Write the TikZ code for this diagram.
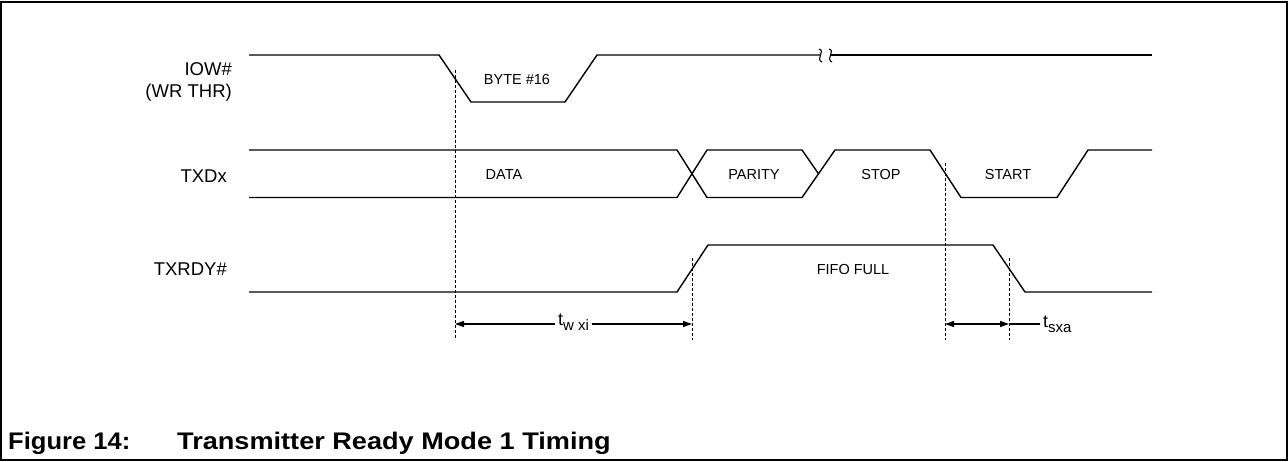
\documentclass[tikz,border=0pt]{standalone}
\usepackage{fontspec}
\setmainfont{Liberation Sans}
\usetikzlibrary{arrows.meta}
\begin{document}
\begin{tikzpicture}[x=1pt,y=-1pt,
  sig/.style={line width=1.4pt, line join=miter},
  guide/.style={line width=1pt, dash pattern=on 3pt off 2pt},
  tipped/.style={line width=1.1pt, {Triangle[length=9pt,width=6pt]}-{Triangle[length=9pt,width=6pt]}},
  plain/.style={line width=1.1pt},
  siglabel/.style={anchor=base east, inner sep=0pt, font=\fontsize{18.5}{20}\selectfont},
  inlabel/.style={anchor=base, inner sep=0pt, font=\fontsize{14.5}{16}\selectfont},
  caption/.style={anchor=base west, inner sep=0pt, font=\fontsize{24}{26}\selectfont\bfseries},
]
\useasboundingbox (0,0) rectangle (1288,461);
\draw[line width=2pt] (1,1.5) rectangle (1286.5,459.8);

% signal labels
\node[siglabel] (lIOW) at (232,75.5) {IOW\#};
\node[siglabel] (lWR) at (232,97) {(WR THR)};
\node[siglabel] (lTXD) at (227,182) {TXDx};
\node[siglabel] (lRDY) at (227,275) {TXRDY\#};

% IOW#
\draw[sig] (249,55) -- (439,55) -- (471,102) -- (565,102) -- (597,55) -- (820.5,55);
\draw[sig] (830.5,55) -- (1152,55);
\draw[line width=1.1pt] (819,49) .. controls (826,51) and (815,59) .. (822,62);
\draw[line width=1.1pt] (829,49) .. controls (836,51) and (825,59) .. (832,62);

% TXDx
\draw[sig] (249,150) -- (677,150) -- (707,197.5) -- (802,197.5) -- (835,150) -- (930,150)
  -- (961,197.5) -- (1057,197.5) -- (1088,150) -- (1152,150);
\draw[sig] (249,197.5) -- (677,197.5) -- (707,150) -- (802,150) -- (818.5,173.75);

% TXRDY#
\draw[sig] (249,292) -- (677,292) -- (708,245) -- (993,245) -- (1025,292) -- (1152,292);

% inner labels
\node[inlabel] (tByte) at (517,84.3) {BYTE \#16};
\node[inlabel] (tData) at (504,179.5) {DATA};
\node[inlabel] (tPar) at (754,179.5) {PARITY};
\node[inlabel] (tStop) at (881,179.5) {STOP};
\node[inlabel] (tStart) at (1008,179.5) {START};
\node[inlabel] (tFifo) at (853,274) {FIFO FULL};

% guide lines
\coordinate (g1t) at (455,70);   \coordinate (g1b) at (455,340);
\coordinate (g2t) at (692,258);  \coordinate (g2b) at (692,340);
\coordinate (g3t) at (945,163);  \coordinate (g3b) at (945,340);
\coordinate (g4t) at (1009,258); \coordinate (g4b) at (1009,340);
\draw[guide] (g1t) -- (g1b);
\draw[guide] (g2t) -- (g2b);
\draw[guide] (g3t) -- (g3b);
\draw[guide] (g4t) -- (g4b);

% dimensions
\coordinate (w1) at (455,324);
\coordinate (w2) at (692,324);
\draw[tipped] (w1) -- node[fill=white, inner sep=3pt, font=\fontsize{18}{20}\selectfont, yshift=1.5pt] (twxi)
  {t\raisebox{-5pt}{\fontsize{15}{16}\selectfont w xi}} (w2);
\coordinate (s1) at (945,324);
\coordinate (s2) at (1009,324);
\coordinate (s3) at (1040,324);
\draw[tipped] (s1) -- (s2);
\draw[plain] (s2) -- (s3);
\node[anchor=base west, inner sep=2pt, font=\fontsize{18}{20}\selectfont] (tsxa) at (1041,327)
  {t\raisebox{-5pt}{\fontsize{15}{16}\selectfont sxa}};

% caption
\node[caption] (cap1) at (8,449.5) {\scalebox{1.065}[1]{Figure 14:}};
\node[caption] (cap2) at (177,449.5) {\scalebox{1.13}[1]{Transmitter Ready Mode 1 Timing}};
\end{tikzpicture}
\end{document}
